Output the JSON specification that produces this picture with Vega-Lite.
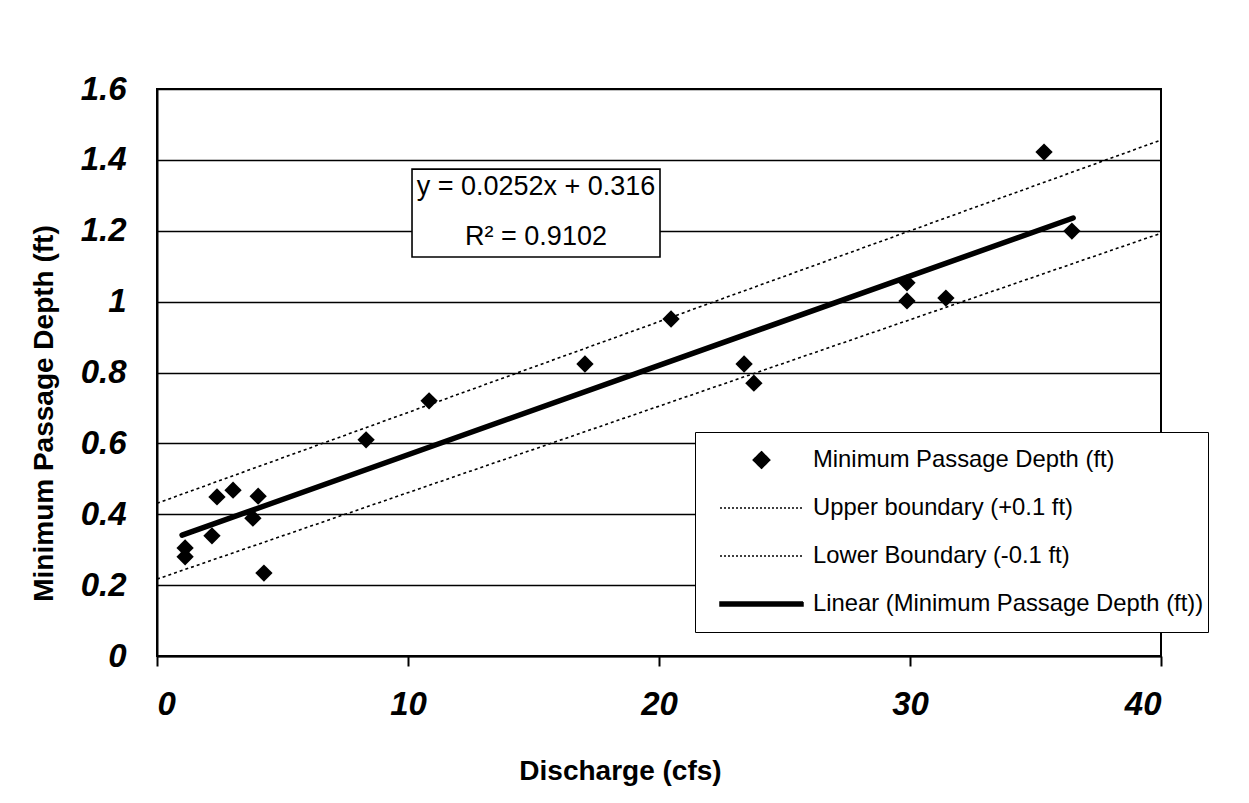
{
  "$schema": "https://vega.github.io/schema/vega-lite/v6.json",
  "width": 1004,
  "height": 567,
  "autosize": {"type": "none"},
  "padding": {"left": 157, "top": 89, "right": 88, "bottom": 147},
  "background": "white",
  "config": {
    "view": {"stroke": "black", "strokeWidth": 2},
    "font": "Liberation Sans",
    "axisX": {
      "grid": false,
      "domainColor": "black",
      "domainWidth": 2,
      "tickColor": "black",
      "tickSize": 10,
      "tickWidth": 2,
      "labelFont": "Liberation Sans",
      "labelFontSize": 33,
      "labelFontWeight": "bold",
      "labelFontStyle": "italic",
      "labelColor": "black",
      "labelPadding": 22,
      "titleFont": "Liberation Sans",
      "titleFontSize": 28,
      "titleFontWeight": "bold",
      "titleColor": "black",
      "titlePadding": 36,
      "titleX": 463
    },
    "axisY": {
      "grid": true,
      "gridColor": "black",
      "gridWidth": 1.6,
      "gridOpacity": 1,
      "ticks": false,
      "domainColor": "black",
      "domainWidth": 2,
      "labelFont": "Liberation Sans",
      "labelFontSize": 33,
      "labelFontWeight": "bold",
      "labelFontStyle": "italic",
      "labelColor": "black",
      "labelPadding": 31,
      "titleFont": "Liberation Sans",
      "titleFontSize": 28,
      "titleFontWeight": "bold",
      "titleColor": "black",
      "titlePadding": 22,
      "titleY": 324
    }
  },
  "datasets": {
    "points": [
      {"discharge": 1.12, "depth": 0.305, "series": "Minimum Passage Depth (ft)"},
      {"discharge": 1.12, "depth": 0.28, "series": "Minimum Passage Depth (ft)"},
      {"discharge": 2.19, "depth": 0.339, "series": "Minimum Passage Depth (ft)"},
      {"discharge": 2.39, "depth": 0.449, "series": "Minimum Passage Depth (ft)"},
      {"discharge": 3.03, "depth": 0.468, "series": "Minimum Passage Depth (ft)"},
      {"discharge": 3.82, "depth": 0.389, "series": "Minimum Passage Depth (ft)"},
      {"discharge": 4.03, "depth": 0.451, "series": "Minimum Passage Depth (ft)"},
      {"discharge": 4.26, "depth": 0.234, "series": "Minimum Passage Depth (ft)"},
      {"discharge": 8.33, "depth": 0.61, "series": "Minimum Passage Depth (ft)"},
      {"discharge": 10.84, "depth": 0.72, "series": "Minimum Passage Depth (ft)"},
      {"discharge": 17.05, "depth": 0.824, "series": "Minimum Passage Depth (ft)"},
      {"discharge": 20.48, "depth": 0.951, "series": "Minimum Passage Depth (ft)"},
      {"discharge": 23.39, "depth": 0.824, "series": "Minimum Passage Depth (ft)"},
      {"discharge": 23.78, "depth": 0.77, "series": "Minimum Passage Depth (ft)"},
      {"discharge": 29.88, "depth": 1.053, "series": "Minimum Passage Depth (ft)"},
      {"discharge": 29.88, "depth": 1.002, "series": "Minimum Passage Depth (ft)"},
      {"discharge": 31.43, "depth": 1.01, "series": "Minimum Passage Depth (ft)"},
      {"discharge": 35.34, "depth": 1.422, "series": "Minimum Passage Depth (ft)"},
      {"discharge": 36.45, "depth": 1.199, "series": "Minimum Passage Depth (ft)"}
    ],
    "lines": [
      {"discharge": 0, "depth": 0.431, "series": "Upper boundary (+0.1 ft)"},
      {"discharge": 40, "depth": 1.456, "series": "Upper boundary (+0.1 ft)"},
      {"discharge": 0, "depth": 0.217, "series": "Lower Boundary (-0.1 ft)"},
      {"discharge": 40, "depth": 1.193, "series": "Lower Boundary (-0.1 ft)"},
      {"discharge": 1.0, "depth": 0.341, "series": "Linear (Minimum Passage Depth (ft))"},
      {"discharge": 36.5, "depth": 1.236, "series": "Linear (Minimum Passage Depth (ft))"}
    ]
  },
  "layer": [
    {
      "data": {"name": "lines"},
      "transform": [{"filter": "datum.series === 'Upper boundary (+0.1 ft)' || datum.series === 'Lower Boundary (-0.1 ft)'"}],
      "mark": {"type": "line", "strokeWidth": 1.6, "strokeDash": [3, 3]},
      "encoding": {
        "x": {
          "field": "discharge", "type": "quantitative",
          "scale": {"domain": [0, 40], "nice": false},
          "axis": {"title": "Discharge (cfs)", "values": [0, 10, 20, 30, 40]}
        },
        "y": {
          "field": "depth", "type": "quantitative",
          "scale": {"domain": [0, 1.6], "nice": false},
          "axis": {"title": "Minimum Passage Depth (ft)", "values": [0, 0.2, 0.4, 0.6, 0.8, 1, 1.2, 1.4, 1.6], "format": "~g"}
        },
        "detail": {"field": "series"},
        "color": {
          "field": "series",
          "type": "nominal",
          "scale": {
            "domain": ["Minimum Passage Depth (ft)", "Upper boundary (+0.1 ft)", "Lower Boundary (-0.1 ft)", "Linear (Minimum Passage Depth (ft))"],
            "range": ["black", "black", "black", "black"]
          },
          "legend": {
            "title": null,
            "orient": "none",
            "legendX": 538,
            "legendY": 343,
            "padding": 4,
            "clipHeight": 48,
            "rowPadding": 0,
            "symbolOffset": 20,
            "labelOffset": 9,
            "symbolSize": 6889,
            "symbolStrokeWidth": 1.5,
            "symbolType": "stroke",
            "labelFont": "Liberation Sans",
            "labelFontSize": 23.8,
            "labelColor": "black",
            "labelLimit": 800,
            "strokeColor": "black",
            "fillColor": "white",
            "encode": {
              "symbols": {
                "update": {
                  "shape": [
                    {"test": "datum.value === 'Minimum Passage Depth (ft)'", "value": "M -0.2 0 L 0 -0.2 L 0.2 0 L 0 0.2 Z"},
                    {"test": "datum.value === 'Linear (Minimum Passage Depth (ft))'", "value": "M -1 -0.05 L 1 -0.05 L 1 0.05 L -1 0.05 Z"},
                    {"value": "stroke"}
                  ],
                  "strokeDash": [
                    {"test": "datum.value === 'Upper boundary (+0.1 ft)' || datum.value === 'Lower Boundary (-0.1 ft)'", "value": [2, 2]},
                    {"value": [1, 0]}
                  ],
                  "fill": {"value": "black"},
                  "stroke": {"value": "black"},
                  "opacity": {"value": 1}
                }
              }
            }
          }
        }
      }
    },
    {
      "data": {"name": "lines"},
      "transform": [{"filter": "datum.series === 'Linear (Minimum Passage Depth (ft))'"}],
      "mark": {"type": "line", "strokeWidth": 5.5, "strokeCap": "round"},
      "encoding": {
        "x": {"field": "discharge", "type": "quantitative"},
        "y": {"field": "depth", "type": "quantitative"},
        "color": {"field": "series", "type": "nominal"}
      }
    },
    {
      "data": {"name": "points"},
      "mark": {"type": "point", "shape": "diamond", "filled": true, "size": 300, "opacity": 1},
      "encoding": {
        "x": {"field": "discharge", "type": "quantitative"},
        "y": {"field": "depth", "type": "quantitative"},
        "color": {"field": "series", "type": "nominal"}
      }
    },
    {
      "data": {"values": [{"box": "equation"}]},
      "mark": {"type": "rect", "fill": "white", "stroke": "black", "strokeWidth": 1.6},
      "encoding": {
        "x": {"datum": 10.16, "type": "quantitative"},
        "x2": {"datum": 20.04},
        "y": {"datum": 1.374, "type": "quantitative"},
        "y2": {"datum": 1.126}
      }
    },
    {
      "data": {"values": [{"label": "y = 0.0252x + 0.316"}]},
      "mark": {"type": "text", "font": "Liberation Sans", "fontSize": 27, "fill": "black", "baseline": "middle", "align": "center"},
      "encoding": {
        "x": {"datum": 15.1, "type": "quantitative"},
        "y": {"datum": 1.3235, "type": "quantitative"},
        "text": {"field": "label"}
      }
    },
    {
      "data": {"values": [{"label": "R² = 0.9102"}]},
      "mark": {"type": "text", "font": "Liberation Sans", "fontSize": 27, "fill": "black", "baseline": "middle", "align": "center"},
      "encoding": {
        "x": {"datum": 15.1, "type": "quantitative"},
        "y": {"datum": 1.182, "type": "quantitative"},
        "text": {"field": "label"}
      }
    }
  ]
}
